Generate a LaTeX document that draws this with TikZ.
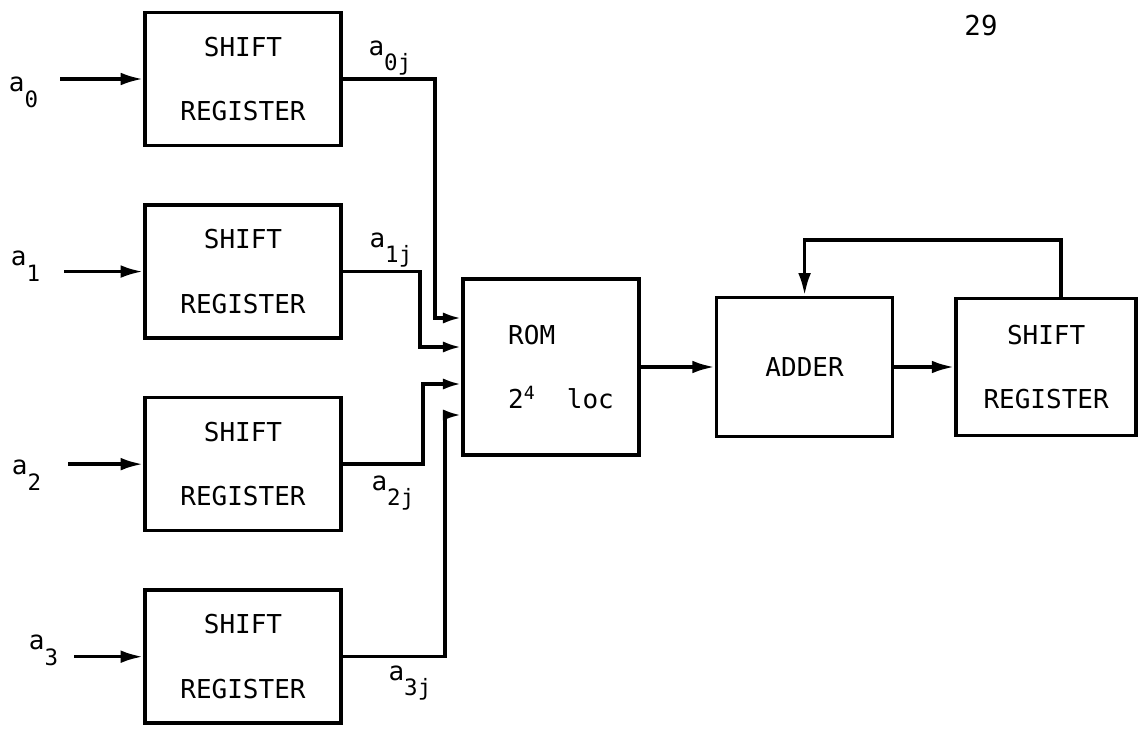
\documentclass[tikz,border=0pt]{standalone}
\usepackage{fontspec}
\newfontfamily\printfont{DejaVu Sans Mono}
\usetikzlibrary{arrows.meta,positioning}
\newcommand{\sig}[3][0.4cm]{#2\raisebox{-#1}{\fontsize{16}{18}\selectfont#3}}

\begin{document}
\begin{tikzpicture}[>={Latex[length=16pt,width=9pt]},x=0.025cm,y=-0.025cm,
  line width=2.5pt,node distance=1.4cm,
  box/.style={draw,align=center,inner sep=0pt,font=\printfont\fontsize{18.5}{46}\selectfont},
  regbox/.style={box,minimum width=4.9cm,minimum height=3.325cm},
  lbl/.style={inner sep=0pt,font=\printfont\fontsize{18.5}{22}\selectfont}]
  \useasboundingbox (0,0) rectangle (1140,729);
  \node[regbox] (sr0) at (243,79) {SHIFT\\REGISTER};
  \node[regbox,below=of sr0] (sr1) {SHIFT\\REGISTER};
  \node[regbox,below=of sr1] (sr2) {SHIFT\\REGISTER};
  \node[regbox,below=of sr2] (sr3) {SHIFT\\REGISTER};
  \node[box,align=left,minimum size=4.4cm] (rom) at (551,367) {\hspace*{0.5cm}ROM\\\hspace*{0.5cm}2\textsuperscript{4}\ \ loc};
  \node[box,minimum width=4.4cm,minimum height=3.475cm,right=1.85cm of rom] (adder) {ADDER};
  \node[box,minimum width=4.5cm,minimum height=3.425cm,right=1.5cm of adder] (sro) {SHIFT\\REGISTER};
  \node[lbl,font=\printfont\fontsize{19.5}{22}\selectfont] (page) at (981,26) {29};
  \foreach \i/\d/\lx/\ly in {0/2.075/-1.325/-0.3,1/1.975/-1.375/0.15,2/1.875/-1.45/-0.25,3/1.725/-1.175/0.175} {
    \path (sr\i.west) ++(-\d cm,0) coordinate (in\i);
    \draw[->] (in\i) -- (sr\i.west);
    \node[lbl,anchor=base west] (lbl\i) at ([xshift=\lx cm,yshift=\ly cm]in\i) {\sig{a}{\i}};
  }
  \coordinate (j0) at (435,318);
  \coordinate (j1) at (420,347);
  \coordinate (j2) at (423,384);
  \coordinate (j3) at (445,415);
  \foreach \i/\dx/\dy in {0/0.6/0.575,1/0.625/0.6,2/0.675/-0.65,3/1.1/-0.6} {
    \draw[->,>={Latex[length=13pt,width=8pt]}] (sr\i.east) -| (j\i) -- (j\i -| rom.west);
    \node[lbl,anchor=base west] (lbl\i j) at ([xshift=\dx cm,yshift=\dy cm]sr\i.east) {\sig[0.375cm]{a}{\i j}};
  }
  \draw[->] (rom) -- (adder);
  \draw[->] (adder) -- (sro);
  \coordinate (fb) at (1061,240);
  \draw[->] (sro.north -| fb) |- (adder.north |- fb) -- (adder.north);
\end{tikzpicture}
\end{document}
